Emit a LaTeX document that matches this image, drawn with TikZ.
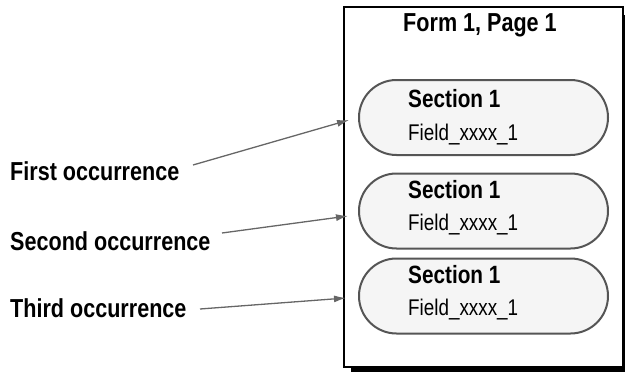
\documentclass[tikz,border=0pt]{standalone}
\usepackage{fontspec}
\setmainfont{Liberation Sans}[FakeStretch=0.83]
\usetikzlibrary{arrows.meta,shapes.misc}
\definecolor{stadfill}{HTML}{F5F5F5}
\definecolor{staddraw}{HTML}{555555}
\definecolor{arrowgray}{HTML}{666666}
\tikzset{
  pagebox/.style={draw=black, line width=2pt, fill=white, minimum width=279pt, minimum height=360pt, inner sep=0pt, anchor=north west},
  stadium/.style={rounded rectangle, draw=staddraw, fill=stadfill, line width=2pt, minimum width=249pt, minimum height=75pt, inner sep=0pt},
  titletext/.style={font=\bfseries\fontsize{26}{30}\selectfont, anchor=base, inner sep=0pt},
  sectext/.style={font=\bfseries\fontsize{25}{29}\selectfont, anchor=base west, inner sep=0pt},
  fieldtext/.style={font=\fontsize{22.7}{26}\selectfont, anchor=base west, inner sep=0pt},
  labeltext/.style={font=\bfseries\fontsize{26}{30}\selectfont, anchor=base west, inner sep=0pt},
  pointer/.style={draw=arrowgray, line width=1.3pt, -{Latex[length=12pt,width=7pt]}, arrowgray}
}
\begin{document}
\begin{tikzpicture}[x=1pt,y=-1pt]
\useasboundingbox (0,0) rectangle (625,372);
\clip (0,0) rectangle (625,372);
% shadow and page
\fill[black] (351,15) rectangle (633,380);
\node (page) [pagebox] at (343,6) {};
\node (title) [titletext] at (480,31) {Form 1, Page 1};
% sections
\node (s1) [stadium] at (483.5,117.5) {};
\node (s2) [stadium] at (483.5,211) {};
\node (s3) [stadium] at (483.5,296) {};
\node (s1a) [sectext] at (408,107) {Section 1};
\node (s1b) [fieldtext] at (408,140) {Field\_xxxx\_1};
\node (s2a) [sectext] at (408,198) {Section 1};
\node (s2b) [fieldtext] at (408,230) {Field\_xxxx\_1};
\node (s3a) [sectext] at (408,283) {Section 1};
\node (s3b) [fieldtext] at (408,315) {Field\_xxxx\_1};
% labels
\node (l1) [labeltext] at (10,180.5) {First occurrence};
\node (l2) [labeltext] at (10,250) {Second occurrence};
\node (l3) [labeltext] at (10,317.5) {Third occurrence};
% arrows
\coordinate (a1s) at (193,165);
\coordinate (a1e) at (349,120);
\coordinate (a2s) at (222,233);
\coordinate (a2e) at (348,216);
\coordinate (a3s) at (200,309);
\coordinate (a3e) at (346,298);
\draw[pointer] (a1s) -- (a1e);
\draw[pointer] (a2s) -- (a2e);
\draw[pointer] (a3s) -- (a3e);
\end{tikzpicture}
\end{document}
